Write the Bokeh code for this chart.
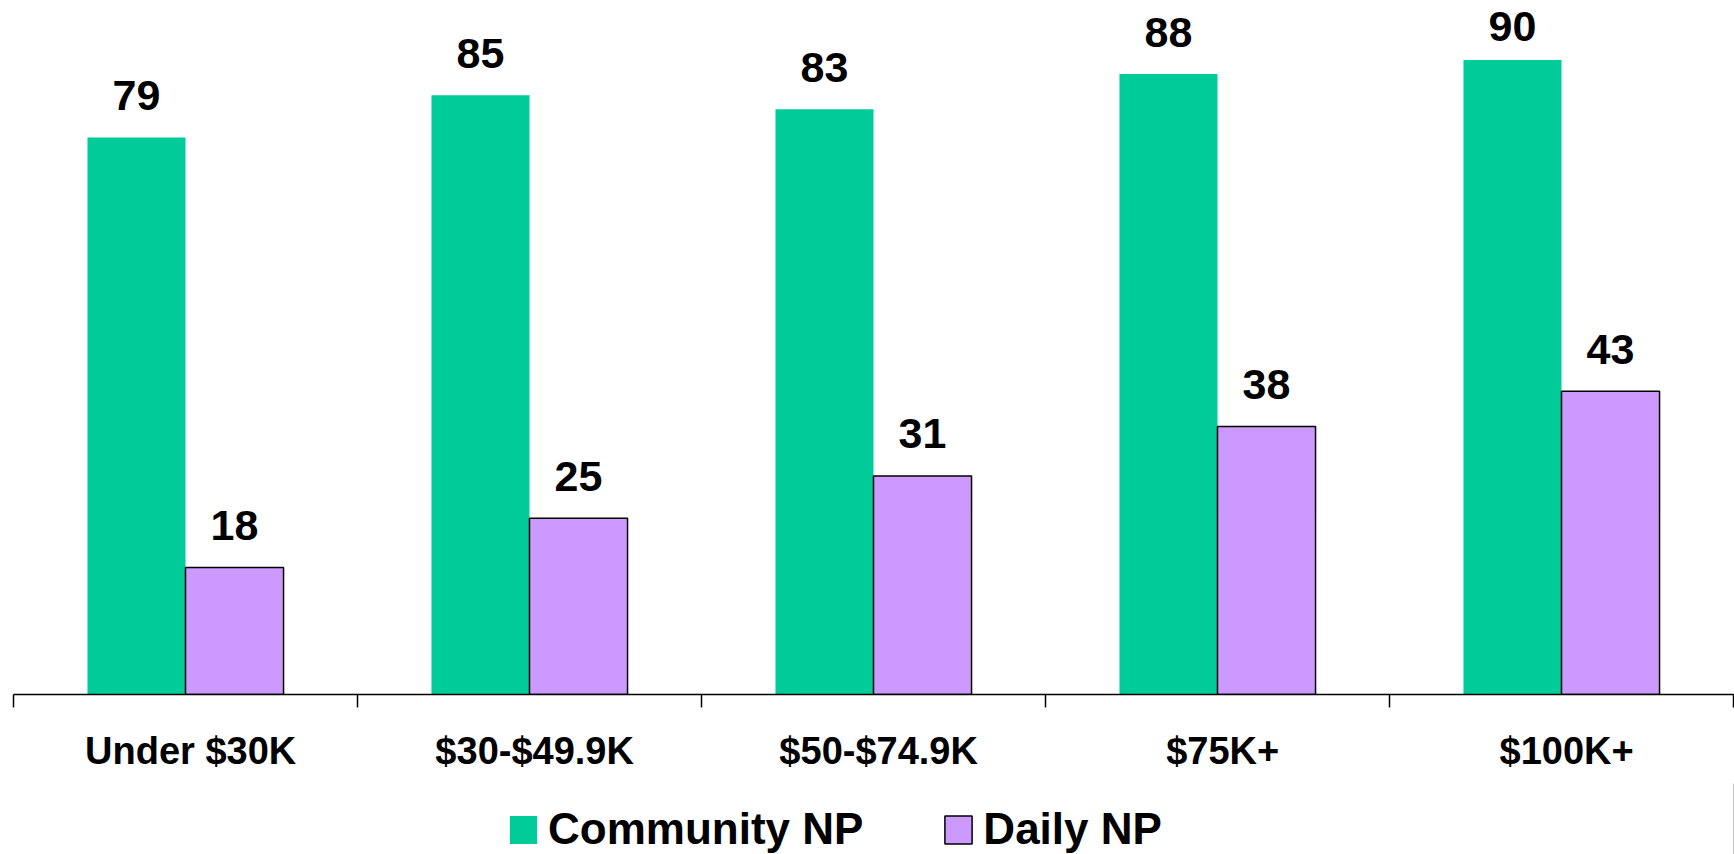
from bokeh.plotting import figure
from bokeh.models import Range1d, LinearAxis, FixedTicker, Legend, LegendItem, ColumnDataSource
from bokeh.layouts import column
from bokeh.core.properties import value
from bokeh.embed import file_html
from bokeh.resources import INLINE

categories = ["Under $30K", "$30-$49.9K", "$50-$74.9K", "$75K+", "$100K+"]
community = [79, 85, 83, 88, 90]
daily = [18, 25, 31, 38, 43]
series_names = ["Community NP", "Daily NP"]

FONT = "Liberation Sans"
GREEN = "#00CC99"
PURPLE = "#CC99FF"

Y_MAX = 97.3
FRAME_H = 686
PX_PER_UNIT = FRAME_H / Y_MAX
LABEL_OFF = -42          # normal offset of value labels above bar tops
MIN_BASELINE = 35        # labels never rise above this many px below frame top


def label_offsets(vals):
    out = []
    for v in vals:
        bar_top = (Y_MAX - v) * PX_PER_UNIT
        base = bar_top + LABEL_OFF + 17
        out.append(LABEL_OFF + max(0, MIN_BASELINE - base))
    return out


centers = [i + 0.5 for i in range(len(categories))]
bw = 0.285
src = ColumnDataSource(dict(
    xc=[c - bw / 2 for c in centers],
    xd=[c + bw / 2 for c in centers],
    community=community,
    daily=daily,
    community_lbl=[str(v) for v in community],
    daily_lbl=[str(v) for v in daily],
    community_off=label_offsets(community),
    daily_off=label_offsets(daily),
))

p = figure(width=1734, height=783, output_backend="svg", toolbar_location=None,
           x_range=Range1d(0, 1721 / 344), y_range=Range1d(0, Y_MAX),
           x_axis_location=None, y_axis_location=None,
           min_border_left=13, min_border_right=0, min_border_top=8, min_border_bottom=89)
p.outline_line_color = None
p.grid.visible = False
p.background_fill_color = "white"

r1 = p.vbar(x="xc", top="community", width=bw, source=src, fill_color=GREEN, line_color=None)
r2 = p.vbar(x="xd", top="daily", width=bw, source=src, fill_color=PURPLE,
            line_color="black", line_width=1.5)

for col, lbl in (("xc", "community"), ("xd", "daily")):
    p.text(x=col, y=lbl, text=lbl + "_lbl", source=src, text_align="center",
           text_baseline="alphabetic", y_offset=lbl + "_off", text_font=value(FONT),
           text_font_style="bold", text_font_size="43px", text_color="black")

# axis with tick marks at category boundaries
tick_axis = LinearAxis(ticker=FixedTicker(ticks=list(range(len(categories) + 1))))
tick_axis.axis_line_color = "black"
tick_axis.axis_line_width = 1.5
tick_axis.major_tick_line_color = "black"
tick_axis.major_tick_line_width = 1.5
tick_axis.major_tick_out = 13
tick_axis.major_tick_in = 0
tick_axis.minor_tick_line_color = None
tick_axis.major_label_text_font_size = "1px"
tick_axis.major_label_text_color = None
tick_axis.major_label_standoff = 0
p.add_layout(tick_axis, "below")

# axis with category labels at centers (slightly right, as in the original)
label_ticks = [c + 0.015 for c in centers]
label_axis = LinearAxis(ticker=FixedTicker(ticks=label_ticks),
                        major_label_overrides={t: cat for t, cat in zip(label_ticks, categories)})
label_axis.axis_line_color = None
label_axis.major_tick_line_color = None
label_axis.minor_tick_line_color = None
label_axis.major_label_text_font = FONT
label_axis.major_label_text_font_style = "bold"
label_axis.major_label_text_font_size = "38px"
label_axis.major_label_text_color = "black"
label_axis.major_label_standoff = 16
p.add_layout(label_axis, "below")

# legend strip
p2 = figure(width=1734, height=71, output_backend="svg", toolbar_location=None,
            x_range=Range1d(0, 1), y_range=Range1d(0, 1),
            x_axis_location=None, y_axis_location=None, min_border=0)
p2.outline_line_color = None
p2.grid.visible = False
k1 = p2.vbar(x=[5], top=[1], width=0.1, fill_color=GREEN, line_color=None)
k2 = p2.vbar(x=[5], top=[1], width=0.1, fill_color=PURPLE, line_color="black", line_width=1.5)
legend = Legend(items=[LegendItem(label=series_names[0], renderers=[k1]),
                       LegendItem(label=series_names[1], renderers=[k2])],
                orientation="horizontal", location=(493, 0),
                glyph_width=34, glyph_height=35, label_standoff=8, spacing=78,
                padding=0, margin=0, border_line_color=None, background_fill_alpha=0,
                label_text_font=FONT, label_text_font_style="bold",
                label_text_font_size="44px", label_text_color="black")
p2.add_layout(legend, "center")

layout = column(p, p2, spacing=0)
open("out.html", "w").write(file_html(layout, INLINE))
